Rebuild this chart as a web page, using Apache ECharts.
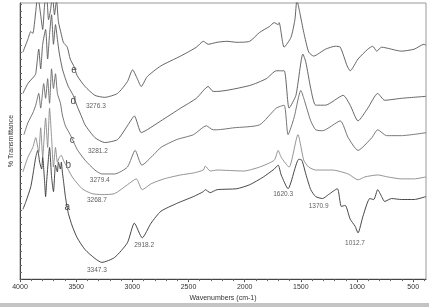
<!DOCTYPE html>
<html>
<head>
<meta charset="utf-8">
<script src="https://cdn.jsdelivr.net/npm/echarts@6/dist/echarts.min.js"></script>
<style>
  html, body { margin: 0; padding: 0; background: #fff; }
  #chart { width: 429px; height: 307px; }
</style>
</head>
<body>
<div id="chart"></div>
<script>
// spectra: [wavenumber, transmittance (arbitrary units, no scale shown)]
var curveA = [
  [3974,71],[3947,79],[3904,94],[3877,112],[3860,124],[3842,131],[3825,119],[3807,112],[3798,124],
  [3781,99],[3772,84],[3763,99],[3746,124],[3737,134],[3719,104],[3702,89],[3684,116],[3667,109],
  [3658,119],[3640,112],[3632,119],[3623,109],[3614,101],[3596,84],[3570,67],[3535,54],[3491,42],
  [3421,30],[3333,21],[3272,17],[3158,22],[3044,37],[2982,57],[2912,42],[2833,57],[2746,69],
  [2605,77],[2456,84],[2368,89],[2351,91],[2307,88],[2246,91],[2070,92],[1956,96],[1833,104],
  [1737,112],[1702,116],[1675,106],[1614,92],[1518,122],[1491,121],[1456,107],[1412,91],[1368,84],
  [1307,82],[1254,86],[1175,92],[1140,74],[1105,75],[1061,61],[1018,54],[991,47],[947,64],[886,82],
  [851,81],[816,91],[781,84],[754,79],[693,82],[605,81],[491,81],[386,84]
];
var curveB = [
  [3974,109],[3930,124],[3886,134],[3860,144],[3833,129],[3816,154],[3798,124],[3772,164],[3754,134],
  [3737,174],[3719,144],[3702,114],[3684,134],[3667,119],[3649,124],[3632,126],[3614,121],[3596,117],
  [3535,104],[3447,92],[3360,87],[3272,86],[3158,87],[3044,96],[2965,102],[2912,91],[2833,97],
  [2719,102],[2570,106],[2456,108],[2368,111],[2351,115],[2307,110],[2246,111],[2009,110],[1868,114],
  [1737,121],[1702,131],[1675,124],[1605,114],[1526,147],[1474,121],[1430,114],[1368,111],[1219,111],
  [1079,107],[991,101],[930,104],[816,106],[728,104],[605,102],[491,102],[386,104]
];
var curveC = [
  [3965,147],[3930,159],[3886,169],[3860,177],[3833,189],[3816,174],[3789,199],[3772,184],[3754,204],
  [3737,179],[3719,214],[3702,194],[3684,209],[3667,189],[3640,179],[3623,167],[3596,156],[3553,147],
  [3491,132],[3421,121],[3333,111],[3272,107],[3158,107],[3044,114],[2975,131],[2915,116],[2807,127],
  [2746,134],[2605,142],[2456,147],[2342,156],[2281,152],[2246,152],[2096,154],[1868,157],[1719,174],
  [1649,177],[1614,147],[1561,164],[1500,192],[1474,184],[1412,161],[1368,152],[1307,151],[1149,161],
  [1079,144],[991,131],[868,144],[816,152],[737,146],[605,146],[386,149]
];
var curveD = [
  [3974,189],[3930,199],[3877,206],[3860,209],[3833,234],[3816,214],[3798,239],[3772,254],[3754,224],
  [3737,249],[3719,269],[3702,239],[3684,259],[3667,244],[3649,229],[3623,214],[3596,204],[3570,196],
  [3526,187],[3491,176],[3447,164],[3421,157],[3333,144],[3246,139],[3132,142],[3044,156],[2982,166],
  [2921,149],[2868,152],[2746,161],[2570,174],[2430,184],[2325,196],[2281,191],[2246,191],[1956,197],
  [1807,204],[1719,212],[1649,212],[1605,174],[1544,187],[1482,229],[1456,221],[1412,194],[1368,177],
  [1281,177],[1123,187],[1061,177],[991,161],[904,174],[816,189],[754,182],[605,184],[386,186]
];
var curveE = [
  [3974,231],[3930,244],[3904,252],[3886,250],[3860,272],[3842,289],[3816,269],[3798,254],[3781,279],
  [3763,289],[3746,264],[3728,274],[3711,289],[3693,269],[3675,284],[3658,262],[3632,249],[3614,241],
  [3579,236],[3553,224],[3518,216],[3491,207],[3421,196],[3333,187],[3246,185],[3132,189],[3044,201],
  [2998,213],[2956,204],[2921,196],[2868,206],[2746,217],[2570,227],[2430,236],[2368,242],[2325,239],
  [2246,241],[2158,242],[2070,241],[1956,242],[1868,251],[1781,257],[1737,261],[1702,259],[1693,261],
  [1649,236],[1588,246],[1553,264],[1535,284],[1509,271],[1474,251],[1430,231],[1386,227],[1281,234],
  [1193,237],[1149,236],[1088,217],[1061,212],[991,224],[904,234],[860,237],[825,232],[781,236],
  [605,232],[491,234],[404,239],[386,238]
];

var curveLetters = [
  [3518,213,'e'],[3526,181,'d'],[3535,141,'c'],[3570,116,'b'],[3579,73,'a']
];
var peakLabels = [
  [3325,176,'3276.3'],[3307,130,'3281.2'],[3290,101,'3279.4'],[3316,80,'3268.7'],[3316,9,'3347.3'],
  [2895,34,'2918.2'],[1658,86,'1620.3'],[1342,74,'1370.9'],[1018,37,'1012.7']
];
var xTicks = [4000,3500,3000,2500,2000,1500,1000,500];

var xMinor = [];
for (var w = 4000; w >= 400; w -= 100) xMinor.push(w);
var yMinor = [];
for (var t = 0; t <= 281; t += 7) yMinor.push(t);

var font = "Liberation Sans";
var chart = echarts.init(document.getElementById("chart"));

function lineSeries(data, color) {
  return {
    type: "line",
    data: data,
    showSymbol: false,
    smooth: 0.2,
    clip: true,
    silent: true,
    lineStyle: { color: color, width: 0.9 }
  };
}

function labelSeries(data, size, color) {
  return {
    type: "scatter",
    data: data,
    symbolSize: 0,
    silent: true,
    clip: false,
    label: {
      show: true,
      position: "inside",
      formatter: function (p) { return p.value[2]; },
      fontFamily: font,
      fontSize: size,
      color: color
    }
  };
}

chart.setOption({
  animation: false,
  backgroundColor: "#fff",
  grid: {
    left: 14, right: 3, top: 3, bottom: 23,
    show: true, borderColor: "#999", borderWidth: 1, backgroundColor: "#fff"
  },
  xAxis: [{
    type: "value",
    inverse: true,
    min: 386, max: 4000,
    name: "Wavenumbers (cm-1)",
    nameLocation: "middle",
    nameGap: 15,
    nameTextStyle: { fontFamily: font, fontSize: 7, color: "#333" },
    axisLine: { lineStyle: { color: "#444", width: 1 } },
    axisTick: { customValues: xTicks, length: 3, lineStyle: { color: "#444" } },
    axisLabel: {
      customValues: xTicks, fontFamily: font, fontSize: 7, color: "#333", margin: 4,
      formatter: function (v) { return String(v); }
    },
    splitLine: { show: false }
  }, {
    type: "value",
    inverse: true,
    min: 386, max: 4000,
    position: "bottom",
    axisLine: { show: false },
    axisTick: { customValues: xMinor, length: 2, lineStyle: { color: "#666" } },
    axisLabel: { show: false },
    splitLine: { show: false }
  }],
  yAxis: {
    type: "value",
    min: 0, max: 281,
    name: "% Transmittance",
    nameLocation: "middle",
    nameGap: 5,
    nameTextStyle: { fontFamily: font, fontSize: 7, color: "#333" },
    axisLine: { show: true, lineStyle: { color: "#444", width: 1 } },
    axisTick: { show: true, inside: true, customValues: yMinor, length: 2, lineStyle: { color: "#666" } },
    axisLabel: { show: false },
    splitLine: { show: false }
  },
  series: [
    lineSeries(curveA, "#333"),
    lineSeries(curveB, "#888"),
    lineSeries(curveC, "#666"),
    lineSeries(curveD, "#555"),
    lineSeries(curveE, "#555"),
    labelSeries(curveLetters, 10, "#111"),
    labelSeries(peakLabels, 6.5, "#333")
  ],
  graphic: [{
    type: "rect",
    left: 0, bottom: 0,
    shape: { width: 429, height: 4 },
    style: { fill: "#c4c4c4" }
  }]
});
</script>
</body>
</html>
